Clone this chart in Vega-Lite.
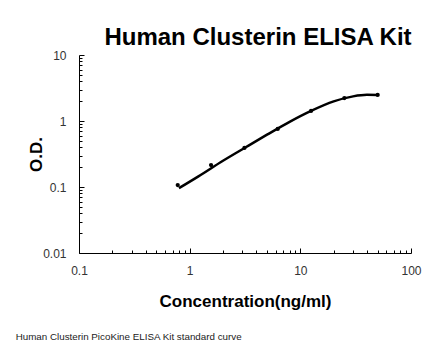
{
  "$schema": "https://vega.github.io/schema/vega-lite/v6.json",
  "background": "white",
  "padding": {"left": 15, "top": 26, "right": 10, "bottom": 5},
  "config": {"view": {"stroke": null}, "font": "Liberation Sans", "concat": {"spacing": 0}},
  "title": {"text": "Human Clusterin PicoKine ELISA Kit standard curve", "orient": "bottom", "anchor": "start", "font": "Liberation Sans", "fontSize": 9.8, "fontWeight": "normal", "color": "#222", "offset": 23, "dx": -12},
  "datasets": {
    "points": [
      {"conc": 0.78, "od": 0.107},
      {"conc": 1.56, "od": 0.215},
      {"conc": 3.125, "od": 0.39},
      {"conc": 6.25, "od": 0.757},
      {"conc": 12.5, "od": 1.42},
      {"conc": 25, "od": 2.23},
      {"conc": 50, "od": 2.48}
    ],
    "fit": [
      {"conc": 0.8, "od": 0.096},
      {"conc": 1.2, "od": 0.145},
      {"conc": 2, "od": 0.25},
      {"conc": 3.125, "od": 0.39},
      {"conc": 5, "od": 0.62},
      {"conc": 8, "od": 0.97},
      {"conc": 12.5, "od": 1.42},
      {"conc": 20, "od": 1.98},
      {"conc": 30, "od": 2.36},
      {"conc": 40, "od": 2.49},
      {"conc": 50, "od": 2.47}
    ]
  },
  "vconcat": [
    {
      "width": 332,
      "height": 198,
      "title": {"text": "Human Clusterin ELISA Kit", "font": "Liberation Sans", "fontSize": 24, "fontWeight": "bold", "color": "black", "dx": 13, "offset": -1},
      "resolve": {"axis": {"x": "independent", "y": "independent"}},
      "layer": [
        {"data": {"name": "fit"},
          "mark": {"type": "line", "color": "black", "strokeWidth": 2.5, "interpolate": "monotone"},
          "encoding": {
            "x": {"field": "conc", "type": "quantitative",
              "scale": {"type": "log", "domain": [0.1, 100], "nice": false},
              "axis": {"orient": "bottom", "values": [0.1, 1, 10, 100], "format": "~g",
                "labelOverlap": false, "labelFlush": false, "labelBound": false,
                "tickSize": -5, "labelPadding": 17, "labelFontSize": 12, "labelColor": "#333",
                "domainColor": "black", "tickColor": "black", "grid": false,
                "title": "Concentration(ng/ml)", "titleFontSize": 17, "titleFontWeight": "bold", "titleColor": "black", "titlePadding": 17}},
            "y": {"field": "od", "type": "quantitative",
              "scale": {"type": "log", "domain": [0.01, 10], "nice": false},
              "axis": {"orient": "left", "values": [0.01, 0.1, 1, 10], "format": "~g",
                "labelOverlap": false, "labelFlush": false, "labelBound": false,
                "tickSize": -5, "labelPadding": 18, "labelFontSize": 12, "labelColor": "#333",
                "domainColor": "black", "tickColor": "black", "grid": false,
                "title": "O.D.", "titleFontSize": 17, "titleFontWeight": "bold", "titleColor": "black", "titlePadding": -3}}
          }
        },
        {"data": {"name": "points"},
          "mark": {"type": "point", "filled": true, "color": "black", "size": 18, "opacity": 1},
          "encoding": {
            "x": {"field": "conc", "type": "quantitative",
              "axis": {"orient": "bottom", "values": [0.2,0.3,0.4,0.5,0.6,0.7,0.8,0.9,2,3,4,5,6,7,8,9,20,30,40,50,60,70,80,90],
                "labels": false, "domain": false, "tickSize": -3, "tickColor": "black", "grid": false, "title": null}},
            "y": {"field": "od", "type": "quantitative",
              "axis": {"orient": "left", "values": [0.02,0.03,0.04,0.05,0.06,0.07,0.08,0.09,0.2,0.3,0.4,0.5,0.6,0.7,0.8,0.9,2,3,4,5,6,7,8,9],
                "labels": false, "domain": false, "tickSize": -3, "tickColor": "black", "grid": false, "title": null}}
          }
        }
      ]
    }
  ]
}
